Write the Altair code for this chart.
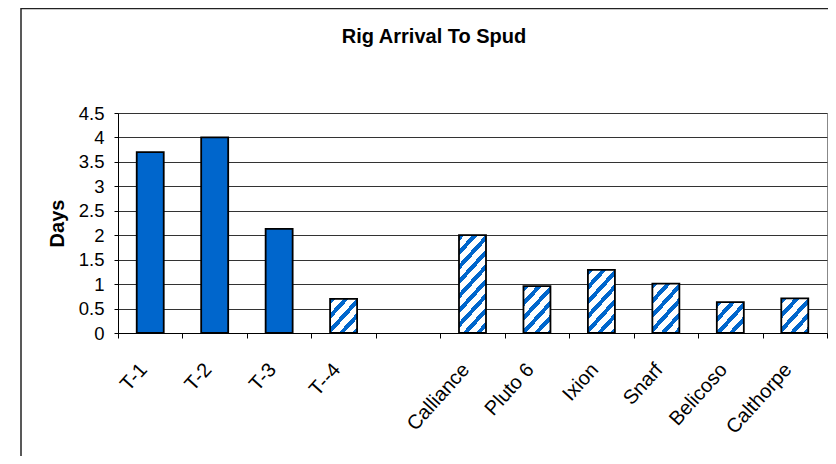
import altair as alt
import pandas as pd

TITLE = "Rig Arrival To Spud"
Y_TITLE = "Days"
categories = ["T-1", "T-2", "T-3", "T--4", " ", "Calliance", "Pluto 6",
              "Ixion", "Snarf", "Belicoso", "Calthorpe"]
values = [3.7, 4.0, 2.13, 0.7, None, 2.0, 0.96, 1.29, 1.01, 0.63, 0.71]
fill_style = ["solid", "solid", "solid", "hatched", "none", "hatched",
              "hatched", "hatched", "hatched", "hatched", "hatched"]
y_ticks = [0, 0.5, 1, 1.5, 2, 2.5, 3, 3.5, 4, 4.5]

W, H = 709, 220
Y_MAX = 4.5
BAR = 27
BLUE = "#0066CC"
WHITE = "#FFFFFF"
FONT = "Liberation Sans"

df = pd.DataFrame({"name": categories, "days": values, "style": fill_style})


def hatch(value):
    """Diagonal stripes as a linear gradient in bbox units."""
    w = BAR
    h = value * H / Y_MAX
    s = 1.1
    d = s * w + h
    den = s * s * w * w + h * h
    x2 = s * w * d / den
    y2 = h * d / den
    period = 14.5 / d
    stops = []
    k = 0
    while k * period < 1:
        a = k * period
        b = min(a + 0.42 * period, 1.0)
        c = min((k + 1) * period, 1.0)
        stops += [(a, BLUE), (b, BLUE), (b, WHITE), (c, WHITE)]
        k += 1
    return alt.LinearGradient(
        gradient="linear",
        stops=[alt.GradientStop(color=col, offset=round(off, 4)) for off, col in stops],
        x1=0, y1=0, x2=round(x2, 4), y2=round(y2, 4),
    )


x_enc = alt.X(
    "name:N",
    sort=categories,
    scale=alt.Scale(domain=categories, paddingInner=0, paddingOuter=0),
    axis=alt.Axis(
        title=None, labelAngle=-48, labelFontSize=20, labelFont=FONT,
        labelColor="black", tickBand="extent", tickSize=5, tickColor="black",
        domainColor="black", grid=False, labelPadding=28, labelOffset=-7,
        labelAlign="right", labelBaseline="middle",
    ),
)
y_enc = alt.Y(
    "days:Q",
    scale=alt.Scale(domain=[0, Y_MAX], nice=False, zero=True),
    axis=alt.Axis(
        values=y_ticks, format="~g", title=Y_TITLE, grid=True,
        gridColor="#333333", gridWidth=1, tickSize=4, tickColor="black",
        domainColor="black", labelPadding=10, labelFontSize=18.5, labelFont=FONT,
        labelColor="black", titleFontSize=20, titleFont=FONT,
        titleFontWeight="bold", titleColor="black", titleX=-61, titleY=110,
        titleAngle=270, titleBaseline="middle", titleAlign="center",
    ),
)

base = alt.Chart(df).encode(x=x_enc, y=y_enc)

solid = base.transform_filter(alt.datum.style == "solid").mark_bar(
    size=BAR, fill=BLUE, stroke="black", strokeWidth=1.8
)

layers = [solid]
for name, val, sty in zip(categories, values, fill_style):
    if sty != "hatched":
        continue
    layers.append(
        base.transform_filter(alt.datum.name == name).mark_bar(
            size=BAR, fill=hatch(val), stroke="black", strokeWidth=1.8
        )
    )

one = pd.DataFrame({"t": [TITLE]})
frame_left = alt.Chart(one).mark_rule(color="#222222", strokeWidth=1.5).encode(
    x=alt.value(-97), y=alt.value(-105), y2=alt.value(H + 125)
)
frame_top = alt.Chart(one).mark_rule(color="#222222", strokeWidth=1.5).encode(
    x=alt.value(-97), x2=alt.value(W + 2), y=alt.value(-104.5)
)
title = alt.Chart(one).mark_text(
    font=FONT, fontSize=20, fontWeight="bold", color="black",
    align="center", baseline="alphabetic",
).encode(text="t:N", x=alt.value(316), y=alt.value(-70))

chart = alt.layer(frame_left, frame_top, *layers, title).properties(
    width=W, height=H,
    autosize=alt.AutoSizeParams(type="none"),
    padding={"left": 110, "top": 105, "right": 1, "bottom": 123},
    background="white",
).configure_view(stroke="#888888", strokeWidth=1)

chart.save("out.html", embed_options={"renderer": "svg", "actions": False})
